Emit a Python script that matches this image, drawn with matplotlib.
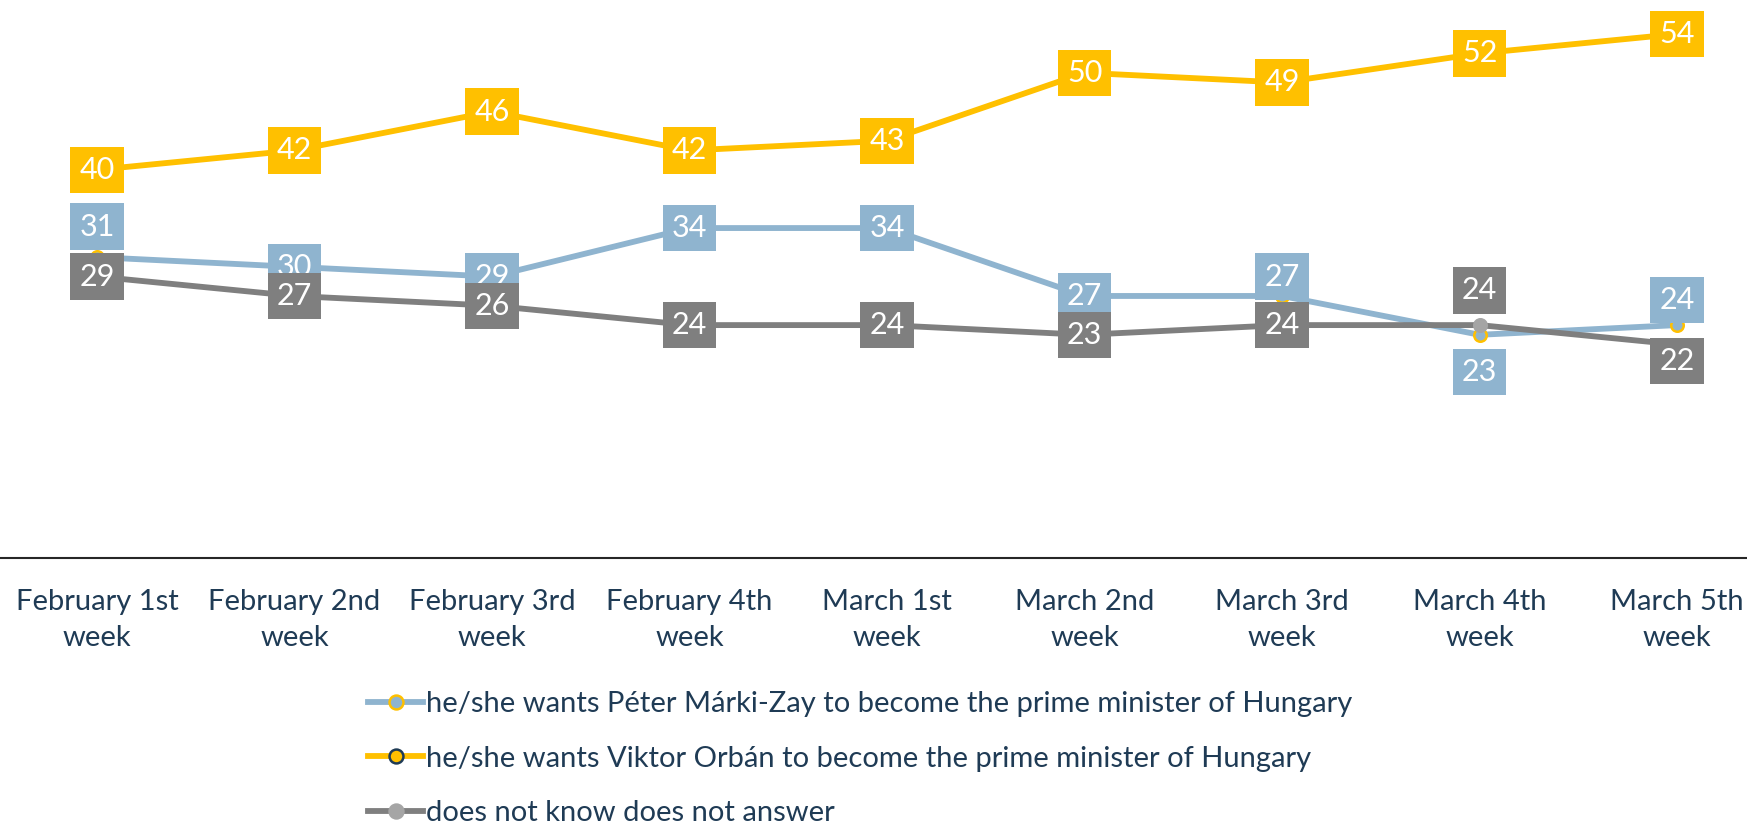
import matplotlib
matplotlib.use("Agg")
import matplotlib.pyplot as plt
from matplotlib.lines import Line2D

plt.rcParams['font.family'] = ['Lato', 'DejaVu Sans']

weeks = ["February 1st\nweek", "February 2nd\nweek", "February 3rd\nweek",
         "February 4th\nweek", "March 1st\nweek", "March 2nd\nweek",
         "March 3rd\nweek", "March 4th\nweek", "March 5th\nweek"]

marki_zay = [31, 30, 29, 34, 34, 27, 27, 23, 24]
orban = [40, 42, 46, 42, 43, 50, 49, 52, 54]
dont_know = [29, 27, 26, 24, 24, 23, 24, 24, 22]

series_names = ["he/she wants Péter Márki-Zay to become the prime minister of Hungary",
                "he/she wants Viktor Orbán to become the prime minister of Hungary",
                "does not know does not answer"]

# label nudges in points (vertical), the way the labels sit in the original
nudge_blue = [-22, 0, 0, 0, 0, 0, -14, 27, -18]
nudge_orange = [0] * 9
nudge_gray = [0, 0, 0, 0, 0, 0, 0, -25, 12]

blue = "#8FB4CF"
yellow = "#FFC000"
gray = "#7F7F7F"
text_col = "#1F3B55"
LW = 4.2

fig = plt.figure(figsize=(17.47, 8.23), dpi=100)
ax = fig.add_axes([0, 0.322, 1, 0.678])

x = list(range(len(weeks)))

ax.plot(x, marki_zay, color=blue, lw=LW, marker='o', ms=9,
        mfc=blue, mec=yellow, mew=1.8, zorder=2, solid_capstyle='round')
ax.plot(x, orban, color=yellow, lw=LW, marker='o', ms=9,
        mfc=yellow, mec=text_col, mew=1.8, zorder=3, solid_capstyle='round')
ax.plot(x, dont_know, color=gray, lw=LW, marker='o', ms=9,
        mfc="#A5A5A5", mec="#A5A5A5", mew=1.8, zorder=4, solid_capstyle='round')


def put_labels(vals, nudges, col, z):
    for i, v in enumerate(vals):
        ax.annotate(str(v), (i, v), xytext=(0, -nudges[i]), textcoords='offset points',
                    ha='center', va='center', fontsize=22, color='white', zorder=z,
                    bbox=dict(boxstyle='square,pad=0.3', fc=col, ec='none'))


put_labels(marki_zay, nudge_blue, blue, 5)
put_labels(orban, nudge_orange, yellow, 6)
put_labels(dont_know, nudge_gray, gray, 7)

ax.set_xlim(-0.491, 8.354)
ax.set_ylim(0, 57.5)
ax.set_xticks(x)
ax.set_xticklabels(weeks, fontsize=21, color=text_col, linespacing=1.5)
ax.set_yticks([])
ax.tick_params(axis='x', length=0, pad=22)
for s in ['top', 'left', 'right']:
    ax.spines[s].set_visible(False)
ax.spines['bottom'].set_color('#262626')
ax.spines['bottom'].set_linewidth(1.5)

handles = [
    Line2D([], [], color=blue, lw=LW, marker='o', ms=10, mfc=blue, mec=yellow, mew=1.8),
    Line2D([], [], color=yellow, lw=LW, marker='o', ms=10, mfc=yellow, mec=text_col, mew=1.8),
    Line2D([], [], color=gray, lw=LW, marker='o', ms=10, mfc="#A5A5A5", mec="#A5A5A5", mew=1.8),
]
leg = fig.legend(handles, series_names, loc='upper left', bbox_to_anchor=(368 / 1747, 1 - 691 / 823),
                 frameon=False, fontsize=21, handlelength=1.9, handletextpad=0.1,
                 labelspacing=0.98, borderpad=0, borderaxespad=0)
for t in leg.get_texts():
    t.set_color(text_col)

fig.savefig("out.png", dpi=100)
